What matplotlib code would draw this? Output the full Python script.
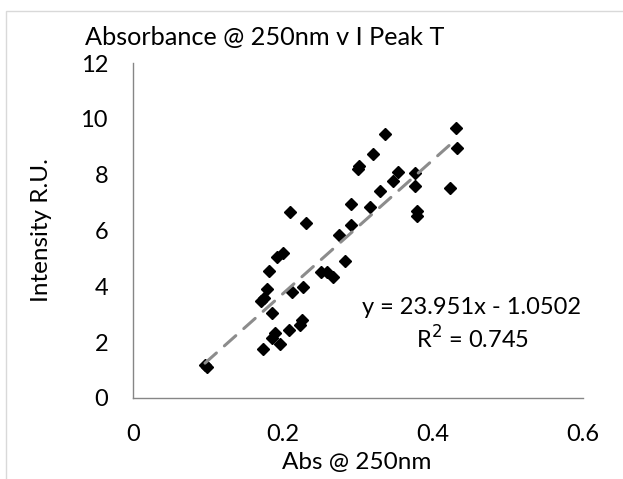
import matplotlib
matplotlib.use('Agg')
import matplotlib.pyplot as plt
from matplotlib.patches import Rectangle
import numpy as np

# data
abs_250 = [0.336, 0.430, 0.432, 0.320, 0.301, 0.300, 0.353, 0.376, 0.347, 0.376,
           0.422, 0.329, 0.291, 0.316, 0.379, 0.378, 0.209, 0.231, 0.291, 0.275,
           0.283, 0.250, 0.259, 0.267, 0.192, 0.200, 0.181, 0.227, 0.212, 0.178,
           0.170, 0.174, 0.185, 0.225, 0.223, 0.208, 0.189, 0.185, 0.196, 0.173,
           0.096, 0.099]
intensity = [9.46, 9.67, 8.95, 8.75, 8.32, 8.21, 8.10, 8.05, 7.77, 7.58,
             7.52, 7.42, 6.95, 6.85, 6.70, 6.52, 6.65, 6.26, 6.20, 5.84,
             4.92, 4.53, 4.52, 4.34, 5.06, 5.20, 4.56, 3.98, 3.78, 3.91,
             3.48, 3.57, 3.05, 2.78, 2.60, 2.42, 2.32, 2.15, 1.95, 1.75,
             1.18, 1.12]

slope = 23.951
intercept = -1.0502
r2 = 0.745

x_ticks = [0, 0.2, 0.4, 0.6]
y_ticks = [0, 2, 4, 6, 8, 10, 12]

plt.rcParams['font.family'] = ['Lato', 'DejaVu Sans']

fig = plt.figure(figsize=(6.23, 4.79), dpi=100)
# light chart-area border (only top/left visible in the original)
fig.patches.append(Rectangle((6 / 623, -0.1), 1.2, 1 - 11 / 479 + 0.1,
                             transform=fig.transFigure, fill=False,
                             edgecolor='#d9d9d9', lw=1))

ax = fig.add_axes([133 / 623, 1 - 398 / 479, (583 - 133) / 623, (398 - 63) / 479])

xs = np.array([min(abs_250), max(abs_250)])
ax.plot(xs, slope * xs + intercept, color='#8c8c8c', lw=2.2,
        ls=(0, (5, 3.5)), dash_capstyle='round', zorder=3)
ax.plot(abs_250, intensity, ls='none', marker='D', ms=6.6, color='black', zorder=2)

ax.set_xlim(0, 0.6)
ax.set_ylim(0, 12)
ax.set_xticks(x_ticks)
ax.set_xticklabels(['0', '0.2', '0.4', '0.6'])
ax.set_yticks(y_ticks)
ax.tick_params(length=0, labelsize=17)
ax.tick_params(axis='y', pad=18)
ax.tick_params(axis='x', pad=19)
for s in ['top', 'right']:
    ax.spines[s].set_visible(False)
for s in ['left', 'bottom']:
    ax.spines[s].set_color('#868686')
    ax.spines[s].set_linewidth(1)

fig.text(265 / 623, 1 - 38 / 479, 'Absorbance @ 250nm v I Peak T',
         ha='center', va='center', fontsize=18.2)
fig.text(357 / 623, 1 - 462 / 479, 'Abs @ 250nm', ha='center', va='center', fontsize=17.5)
fig.text(42 / 623, 1 - 230 / 479, 'Intensity R.U.', ha='center', va='center',
         rotation=90, fontsize=17.5)

fig.text(472 / 623, 1 - 307 / 479, 'y = 23.951x - 1.0502', ha='center', va='center',
         fontsize=17)
fig.text(472 / 623, 1 - 339 / 479, 'R$^2$ = %.3f' % r2, ha='center', va='center',
         fontsize=17)

fig.savefig('out.png', dpi=100)
